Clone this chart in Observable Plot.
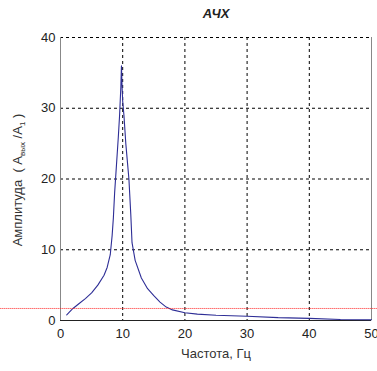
<!DOCTYPE html>
<html><head><meta charset="utf-8">
<script src="https://cdn.jsdelivr.net/npm/d3@7"></script>
<script src="https://cdn.jsdelivr.net/npm/@observablehq/plot@0.6"></script>
<style>
body{margin:0;background:#fff;}
svg{font-family:"Liberation Sans Narrow","Arial Narrow","Liberation Sans",sans-serif;}
</style></head>
<body><div id="chart"></div>
<script>
const freq = [1,2,3,4,5,6,7,7.5,8,8.3,8.5,8.7,9,9.3,9.5,9.7,9.8,9.9,10,10.2,10.5,10.8,11,11.3,11.5,12,13,14,15,16,17,18,20,22,25,30,35,40,45,50];
const amp  = [0.8,1.7,2.4,3.1,3.9,5.0,6.4,7.5,9.3,12,14.5,18,22,26,29,33,36,33,31,29,25,22,20,15,11,8.5,6.0,4.5,3.5,2.6,1.9,1.5,1.1,0.9,0.75,0.6,0.4,0.3,0.15,0.1];
const xTicks = [0,10,20,30,40,50];
const yTicks = [0,10,20,30,40];
const gridX = [10,20,30,40];
const gridY = [10,20,30,40];
const redLevel = 1.7;
const redSpan = [-9.7, 51];
const title = "АЧХ";
const xLabel = "Частота, Гц";

const data = freq.map((f,i)=>({f, a: amp[i]}));

const plot = Plot.plot({
  width: 377, height: 371,
  marginLeft: 60, marginRight: 6, marginTop: 37, marginBottom: 51,
  x: {domain:[0,50], ticks: xTicks, tickSize: 0, tickPadding: 8, label: null},
  y: {domain:[0,40], ticks: yTicks, tickSize: 0, tickPadding: 5, label: null},
  style: {fontSize: "13px", color: "#222"},
  marks: [
    Plot.ruleX(gridX, {stroke:"#000", strokeDasharray:"3,3", strokeWidth:1}),
    Plot.ruleY(gridY, {stroke:"#000", strokeDasharray:"3,3", strokeWidth:1}),
    Plot.ruleX([0], {stroke:"#888"}),
    Plot.ruleX([50], {stroke:"#888"}),
    Plot.ruleY([0], {stroke:"#222"}),
    Plot.line(data, {x:"f", y:"a", stroke:"#2e2e96", strokeWidth:1.1}),
    Plot.ruleY([redLevel], {x1: redSpan[0], x2: redSpan[1], stroke:"#ff2020", strokeWidth:1, strokeDasharray:"1,1", clip:false}),
    Plot.text([title], {frameAnchor:"top", dy:-29, fontSize:13, fontStyle:"italic", fontWeight:"bold", fill:"#222"}),
    Plot.text([xLabel], {frameAnchor:"bottom", dy:37, fontSize:13, fill:"#333"})
  ]
});
document.getElementById("chart").appendChild(plot);

// y axis label with subscripts
const svg = d3.select(plot);
const t = svg.append("text")
  .attr("transform","translate(22,180) rotate(-90)")
  .attr("text-anchor","middle")
  .attr("font-size",13)
  .attr("fill","#333");
t.append("tspan").text("Амплитуда  ( A");
t.append("tspan").attr("font-size",8).attr("dy",3).text("вых");
t.append("tspan").attr("dy",-3).text(" /A");
t.append("tspan").attr("font-size",8).attr("dy",3).text("1");
t.append("tspan").attr("dy",-3).text(" )");
</script></body></html>
